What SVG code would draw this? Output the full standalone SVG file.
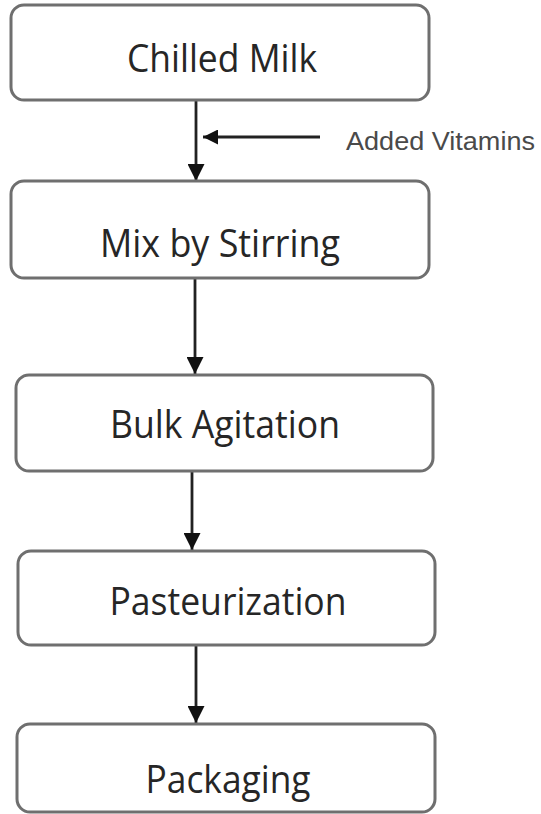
<svg xmlns="http://www.w3.org/2000/svg" width="541" height="814" viewBox="0 0 541 814">
<defs>
<style>
.box{fill:#ffffff;stroke:#6f6f6f;stroke-width:3}
.lbl{font-family:"Open Sans","Liberation Sans",sans-serif;font-size:38px;fill:#262626;text-anchor:middle}
.note{font-family:"Liberation Sans",sans-serif;font-size:25px;fill:#4a4a4a}
.conn{stroke:#222222;stroke-width:2.8;fill:none}
</style>
<marker id="ah" viewBox="0 0 10 10" refX="10" refY="5" markerWidth="17" markerHeight="17" markerUnits="userSpaceOnUse" orient="auto">
<path d="M0,0 L10,5 L0,10 Z" fill="#111111"/>
</marker>
<marker id="ahs" viewBox="0 0 10 10" refX="10" refY="5" markerWidth="15" markerHeight="15" markerUnits="userSpaceOnUse" orient="auto">
<path d="M0,0 L10,5 L0,10 Z" fill="#111111"/>
</marker>
</defs>
<rect width="541" height="814" fill="#ffffff"/>
<g id="connectors">
<line class="conn" x1="196" y1="100" x2="196" y2="181" marker-end="url(#ah)"/>
<line class="conn" x1="320" y1="137" x2="203" y2="137" marker-end="url(#ahs)"/>
<line class="conn" x1="195" y1="278" x2="195" y2="374" marker-end="url(#ah)"/>
<line class="conn" x1="192" y1="471" x2="192" y2="550" marker-end="url(#ah)"/>
<line class="conn" x1="196" y1="645" x2="196" y2="723" marker-end="url(#ah)"/>
</g>
<g id="node-chilled-milk">
<rect class="box" x="11" y="5" width="418" height="95" rx="13"/>
<text class="lbl" x="222" y="72" textLength="190" lengthAdjust="spacingAndGlyphs">Chilled Milk</text>
</g>
<g id="label-added-vitamins">
<text class="note" x="346" y="150" textLength="189" lengthAdjust="spacingAndGlyphs">Added Vitamins</text>
</g>
<g id="node-mix-by-stirring">
<rect class="box" x="11" y="181" width="418" height="97" rx="13"/>
<text class="lbl" x="220" y="257" textLength="240" lengthAdjust="spacingAndGlyphs">Mix by Stirring</text>
</g>
<g id="node-bulk-agitation">
<rect class="box" x="16" y="375" width="417" height="96" rx="13"/>
<text class="lbl" x="225" y="438" textLength="230" lengthAdjust="spacingAndGlyphs">Bulk Agitation</text>
</g>
<g id="node-pasteurization">
<rect class="box" x="18" y="551" width="417" height="94" rx="13"/>
<text class="lbl" x="228" y="615" textLength="237" lengthAdjust="spacingAndGlyphs">Pasteurization</text>
</g>
<g id="node-packaging">
<rect class="box" x="17" y="724" width="418" height="88" rx="13"/>
<text class="lbl" x="228" y="793" textLength="165" lengthAdjust="spacingAndGlyphs">Packaging</text>
</g>
</svg>
